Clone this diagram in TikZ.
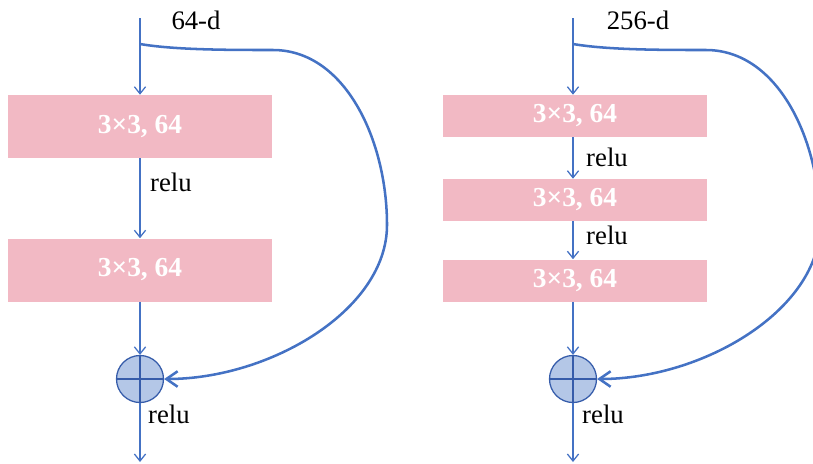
\documentclass[tikz,border=0pt]{standalone}
\usepackage{fontspec}
\setmainfont{Liberation Serif}
\usetikzlibrary{arrows.meta}
\definecolor{convpink}{RGB}{242,185,196}
\definecolor{linkblue}{RGB}{68,114,196}
\definecolor{sumfill}{RGB}{180,199,231}
\definecolor{sumedge}{RGB}{54,92,170}
\begin{document}
\begin{tikzpicture}[x=0.025cm, y=-0.025cm,
    flow/.style={-{Straight Barb[length=5pt,width=8pt]}, linkblue, line width=0.9pt},
    skip/.style={-{Straight Barb[length=8pt,width=11pt]}, linkblue, line width=1.8pt},
    conv/.style={fill=convpink, text=white, font=\fontsize{19.5}{23}\selectfont\bfseries,
        minimum width=6.575cm, inner sep=0pt},
    convtall/.style={conv, minimum height=1.575cm},
    convflat/.style={conv, minimum height=1.05cm},
    lbl/.style={font=\fontsize{19}{23}\selectfont, inner sep=0pt},
    sum/.style={circle, draw=sumedge, fill=sumfill, line width=0.9pt, minimum size=1.175cm,
        inner sep=0pt, path picture={
            \draw[sumedge, line width=0.9pt] (path picture bounding box.north) -- (path picture bounding box.south)
                (path picture bounding box.west) -- (path picture bounding box.east);}}]
    \useasboundingbox (0,0) rectangle (813,463);
    % two-layer block
    \coordinate (inA) at (140,18);
    \coordinate (splitA) at (140,44);
    \coordinate (outA) at (140,462);
    \node[convtall] (convA1) at (140,126.5) {3×3, 64};
    \node[convtall] (convA2) at (140,270) {3×3, 64};
    \node[sum] (sumA) at (140,379) {};
    \node[lbl] (dimA) at (196,20) {64-d};
    \node[lbl] (reluA1) at (171,182) {relu};
    \node[lbl] (reluA2) at (169,414) {relu};
    \draw[flow] (inA) -- (convA1);
    \draw[flow] (convA1) -- (convA2);
    \draw[flow] (convA2) -- (sumA);
    \draw[flow] (sumA) -- (outA);
    \draw[skip] (splitA) .. controls (175,50) and (230,50) .. (273,50)
        .. controls (345,50) and (387,140) .. (387,225)
        .. controls (387,310) and (270,379) .. (sumA.east);
    % three-layer block
    \coordinate (inB) at (573,18);
    \coordinate (splitB) at (573,44);
    \coordinate (outB) at (573,462);
    \node[convflat] (convB1) at (575,116) {3×3, 64};
    \node[convflat] (convB2) at (575,200) {3×3, 64};
    \node[convflat] (convB3) at (575,280.5) {3×3, 64};
    \node[sum] (sumB) at (573,379) {};
    \node[lbl] (dimB) at (638,20) {256-d};
    \node[lbl] (reluB1) at (607,157) {relu};
    \node[lbl] (reluB2) at (607,235) {relu};
    \node[lbl] (reluB3) at (603,414) {relu};
    \draw[flow] (inB) -- (convB1.north -| inB);
    \draw[flow] (convB1.south -| inB) -- (convB2.north -| inB);
    \draw[flow] (convB2.south -| inB) -- (convB3.north -| inB);
    \draw[flow] (convB3.south -| inB) -- (sumB);
    \draw[flow] (sumB) -- (outB);
    \draw[skip] (splitB) .. controls (608,50) and (663,50) .. (706,50)
        .. controls (778,50) and (820,140) .. (820,225)
        .. controls (820,310) and (703,379) .. (sumB.east);
\end{tikzpicture}
\end{document}
